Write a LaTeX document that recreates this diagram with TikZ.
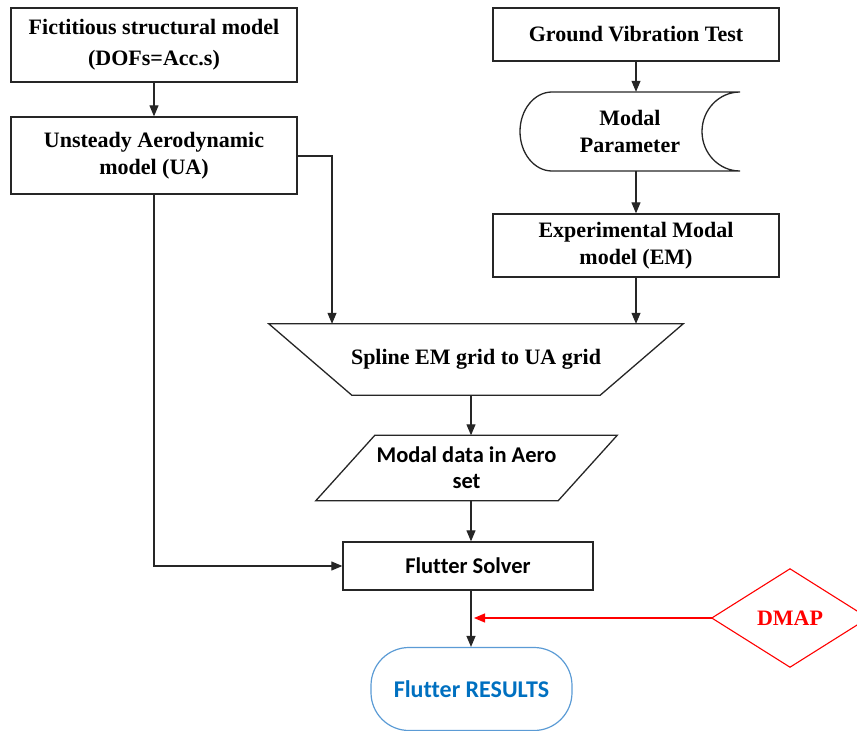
\documentclass[tikz,border=0pt]{standalone}
\usepackage{fontspec}
\setmainfont{Liberation Serif}
\newfontfamily\calib[Ligatures=NoCommon]{Carlito}
\usetikzlibrary{arrows.meta,calc}
\definecolor{resblue}{RGB}{91,155,213}
\definecolor{restext}{RGB}{0,112,192}
\begin{document}
\begin{tikzpicture}[x=1pt,y=-1pt,
  box/.style={draw=black!85,line width=1.3pt,inner sep=0pt,align=center},
  serifb/.style={font=\fontsize{22}{27}\selectfont\bfseries},
  seriflong/.style={font=\fontsize{22}{31}\selectfont\bfseries},
  sansb/.style={font=\calib\fontsize{22.5}{26}\selectfont\bfseries},
  ghost/.style={inner sep=0pt,align=center},
  outline/.style={draw=black!85,line width=1.3pt},
  arr/.style={draw=black!85,line width=1.1pt,-{Triangle[length=11pt,width=9pt]}}]
\path[use as bounding box,clip] (0,0) rectangle (857,731);

% nodes
\node[box,seriflong,minimum width=286pt,minimum height=74pt] (fsm) at (154,45) {Fictitious structural model\\(DOFs=Acc.s)};
\node[box,serifb,minimum width=286pt,minimum height=77pt] (ua) at (154,155.5) {Unsteady Aerodynamic\\model (UA)};
\node[box,serifb,minimum width=286pt,minimum height=53pt] (gvt) at (636,34.5) {Ground Vibration Test};
\node[ghost,serifb,minimum width=220pt,minimum height=79pt] (mp) at (630,131.5) {Modal\\Parameter};
\node[box,serifb,minimum width=286pt,minimum height=63pt] (em) at (636,245.5) {Experimental Modal\\model (EM)};
\node[ghost,serifb,minimum width=414pt,minimum height=71pt] (spline) at (476,359.5) {Spline EM grid to UA grid};
\node[ghost,sansb,minimum width=301pt,minimum height=65pt] (mdata) at (466.5,468) {Modal data in Aero\\set};
\node[box,sansb,minimum width=250pt,minimum height=48pt] (solver) at (468,566) {Flutter Solver};
\node[draw=resblue,line width=1.2pt,rounded corners=38pt,inner sep=0pt,minimum width=201pt,minimum height=83pt,text=restext,font=\calib\fontsize{24}{26}\selectfont\bfseries] (res) at (471.5,689) {Flutter RESULTS};
\node[ghost,serifb,text=red,minimum width=156pt,minimum height=98pt] (dmap) at (790,618) {DMAP};

% special shapes
\draw[outline] (552,92) -- (740,92)
  arc[start angle=270,end angle=90,x radius=38,y radius=39.5]
  -- (552,171)
  arc[start angle=90,end angle=270,x radius=32,y radius=39.5] -- cycle;
\draw[outline] (spline.north west) -- (spline.north east)
  -- ($(spline.south east)+(-83,0)$) -- ($(spline.south west)+(83,0)$) -- cycle;
\draw[outline] ($(mdata.north west)+(59,0)$) -- (mdata.north east)
  -- ($(mdata.south east)+(-59,0)$) -- (mdata.south west) -- cycle;
\draw[red,line width=1.1pt] (dmap.west) -- (dmap.north) -- (dmap.east) -- (dmap.south) -- cycle;

% connectors
\coordinate (spine) at (471,0);
\coordinate (uaturn) at (332,156);
\draw[arr] (fsm.south) -- (ua.north);
\draw[arr] (gvt.south) -- (gvt.south |- mp.north);
\draw[arr] (em.north |- mp.south) -- (em.north);
\draw[arr] (ua.east |- uaturn) -- (uaturn) -- (uaturn |- spline.north);
\draw[arr] (em.south) -- (em.south |- spline.north);
\draw[arr] (spline.south -| spine) -- (mdata.north -| spine);
\draw[arr] (mdata.south -| spine) -- (solver.north -| spine);
\draw[arr] (ua.south) |- (solver.west);
\draw[arr] (solver.south -| spine) -- (res.north -| spine);
\draw[arr,draw=red] (dmap.west) -- ($(dmap.west -| spine)+(3,0)$);
\end{tikzpicture}
\end{document}
